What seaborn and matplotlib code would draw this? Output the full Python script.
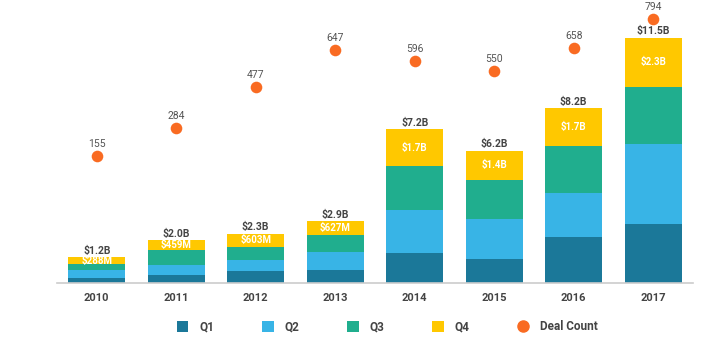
import matplotlib
matplotlib.use("Agg")
import matplotlib.pyplot as plt
import seaborn as sns
import pandas as pd
import numpy as np
from matplotlib.patches import Patch
from matplotlib.lines import Line2D

years = ["2010", "2011", "2012", "2013", "2014", "2015", "2016", "2017"]
q1 = [0.25, 0.36, 0.54, 0.60, 1.42, 1.13, 2.16, 2.75]
q2 = [0.38, 0.47, 0.56, 0.87, 1.98, 1.88, 2.07, 3.78]
q3 = [0.28, 0.71, 0.60, 0.80, 2.08, 1.83, 2.21, 2.67]
q4 = [0.288, 0.459, 0.603, 0.627, 1.72, 1.36, 1.76, 2.30]
total_labels = ["$1.2B", "$2.0B", "$2.3B", "$2.9B", "$7.2B", "$6.2B", "$8.2B", "$11.5B"]
q4_labels = ["$288M", "$459M", "$603M", "$627M", "$1.7B", "$1.4B", "$1.7B", "$2.3B"]
deal_count = [155, 284, 477, 647, 596, 550, 658, 794]

colors = {"Q1": "#1B7899", "Q2": "#38B4E6", "Q3": "#20AE8E", "Q4": "#FFC800"}
dot_color = "#F96B22"

sns.set_theme(style="white")
plt.rcParams["font.family"] = ["Roboto", "DejaVu Sans"]

df = pd.DataFrame({"year": years, "Q1": q1, "Q2": q2, "Q3": q3, "Q4": q4,
                   "deals": deal_count})
df["c1"] = df["Q1"]
df["c2"] = df["c1"] + df["Q2"]
df["c3"] = df["c2"] + df["Q3"]
df["c4"] = df["c3"] + df["Q4"]

fig = plt.figure(figsize=(7.2, 3.4), dpi=100)
ax = fig.add_axes([57 / 720, 1 - 283 / 340, (693 - 57) / 720, (283 - 10) / 340])

for col, q in [("c4", "Q4"), ("c3", "Q3"), ("c2", "Q2"), ("c1", "Q1")]:
    sns.barplot(data=df, x="year", y=col, color=colors[q], width=0.72,
                saturation=1, ax=ax, linewidth=0, errorbar=None)

ax.set_xlim(-0.5, 7.5)
ax.set_ylim(0, 12.8)
ax.set_xlabel("")
ax.set_ylabel("")
ax.set_yticks([])
for s in ["top", "right", "left"]:
    ax.spines[s].set_visible(False)
ax.spines["bottom"].set_color("#cccccc")
ax.spines["bottom"].set_linewidth(1.2)
ax.tick_params(axis="x", length=0, pad=7, labelsize=8, labelcolor="#444444")
for t in ax.get_xticklabels():
    t.set_fontweight("bold")

for i in range(len(years)):
    ax.annotate(total_labels[i], (i, df["c4"][i]), xytext=(0, 1),
                textcoords="offset points", ha="center", va="bottom",
                fontsize=7.5, fontweight="bold", color="#444444")
    ax.text(i, (df["c3"][i] + df["c4"][i]) / 2, q4_labels[i], ha="center",
            va="center", fontsize=7, fontweight="bold", color="white")

ax2 = ax.twinx()
sns.scatterplot(data=df, x="year", y="deals", color=dot_color, s=70,
                linewidth=0, ax=ax2, zorder=5)
ax2.set_ylim(-438, 834)
ax2.set_xlim(-0.5, 7.5)
ax2.set_yticks([])
ax2.set_ylabel("")
ax2.set_xlabel("")
for s in ["top", "right", "left", "bottom"]:
    ax2.spines[s].set_visible(False)
for i, d in enumerate(deal_count):
    ax2.annotate(str(d), (i, d), xytext=(0, 5), textcoords="offset points",
                 ha="center", va="bottom", fontsize=7.5, color="#555555")

handles = [Patch(facecolor=colors[q], edgecolor="none", label=q)
           for q in ["Q1", "Q2", "Q3", "Q4"]]
handles.append(Line2D([0], [0], marker="o", linestyle="none", color=dot_color,
                      markersize=8, label="Deal Count"))
leg = fig.legend(handles=handles, loc="center", ncol=5, frameon=False,
                 bbox_to_anchor=(387 / 720, 1 - 327 / 340), fontsize=8.5,
                 columnspacing=4.05, handlelength=1.0, handleheight=1.0,
                 handletextpad=0.9)
for t in leg.get_texts():
    t.set_fontweight("bold")
    t.set_color("#444444")

fig.savefig("out.png", dpi=100)
